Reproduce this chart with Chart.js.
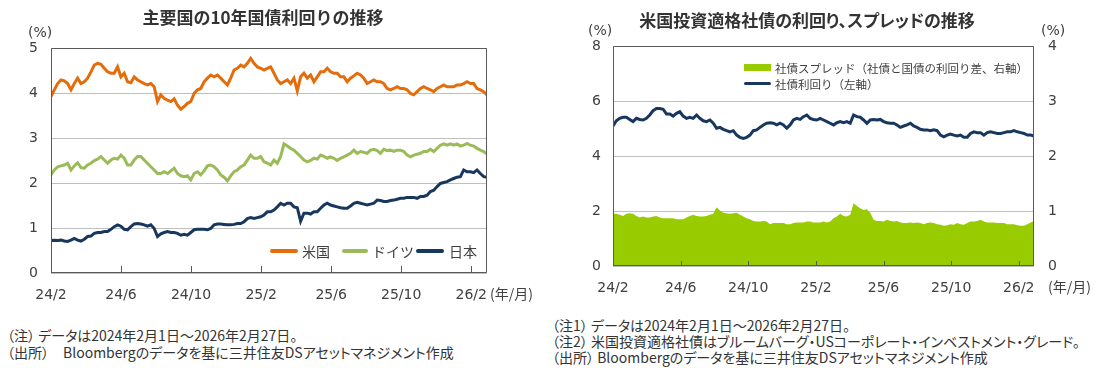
<!DOCTYPE html>
<html lang="ja">
<head>
<meta charset="utf-8">
<title>主要国の10年国債利回り / 米国投資適格社債</title>
<script src="https://cdn.jsdelivr.net/npm/chart.js@4/dist/chart.umd.min.js"></script>
<style>
    html, body { margin: 0; padding: 0; background: #fff; }
    body { width: 1112px; height: 368px; position: relative; overflow: hidden; }
    canvas { position: absolute; top: 0; }
    .t { position: absolute; white-space: nowrap; color: #404040; font-family: "Noto Sans CJK JP", sans-serif; }
    .num { font-family: "DejaVu Sans", sans-serif; font-size: 14px; line-height: 16px; }
    .ttl { font-weight: bold; font-size: 17px; line-height: 20px; text-align: center; color: #333; }
    .lg { font-size: 14px; line-height: 16px; }
    .lg2 { font-size: 11.5px; line-height: 14px; }
    .note { font-size: 14px; line-height: 16px; color: #333; font-feature-settings: "palt"; }
    .sw { position: absolute; }
</style>
</head>
<body>
<canvas id="graficoJuros" width="550" height="310" style="left:0"></canvas>
<canvas id="graficoCredito" width="556" height="310" style="left:556px"></canvas>

<div class="t ttl" style="left:0;width:526px;top:7px">主要国の10年国債利回りの推移</div>
<div class="t num" style="left:28px;top:24px">(%)</div>
<div class="t lg" style="left:490px;top:285px">(年/月)</div>

<div class="sw" style="left:270px;top:249px;width:28px;height:4px;border-radius:2px;background:#E46C0A"></div>
<div class="t lg" style="left:302px;top:243px">米国</div>
<div class="sw" style="left:342px;top:249px;width:26px;height:4px;border-radius:2px;background:#9BBB59"></div>
<div class="t lg" style="left:372px;top:243px">ドイツ</div>
<div class="sw" style="left:416px;top:249px;width:28px;height:4px;border-radius:2px;background:#17375E"></div>
<div class="t lg" style="left:449px;top:243px">日本</div>

<div class="t ttl" style="left:557px;width:500px;top:10px;font-feature-settings:'palt'">米国投資適格社債の利回り、スプレッドの推移</div>
<div class="t num" style="left:588px;top:22px">(%)</div>
<div class="t num" style="left:1041px;top:22px">(%)</div>
<div class="t lg" style="left:1048px;top:278px">(年/月)</div>

<div class="sw" style="left:744px;top:64px;width:27px;height:7px;background:#99CC00"></div>
<div class="t lg2" style="left:775px;top:61px">社債スプレッド（社債と国債の利回り差、右軸）</div>
<div class="sw" style="left:744px;top:82px;width:27px;height:3px;border-radius:2px;background:#17375E"></div>
<div class="t lg2" style="left:775px;top:77px">社債利回り（左軸）</div>

<div class="t note" style="left:7px;top:327px">（注） データは2024年2月1日～2026年2月27日。</div>
<div class="t note" style="left:7px;top:344px">（出所）　Bloombergのデータを基に三井住友DSアセットマネジメント作成</div>
<div class="t note" style="left:552px;top:317px">（注1） データは2024年2月1日～2026年2月27日。</div>
<div class="t note" style="left:552px;top:333px">（注2） 米国投資適格社債はブルームバーグ・USコーポレート・インベストメント・グレード。</div>
<div class="t note" style="left:552px;top:349px">（出所） Bloombergのデータを基に三井住友DSアセットマネジメント作成</div>

<script>
// período: 2024/2/1 a 2026/2/27, em meses desde 2024/2
const MESES_TOTAL = 24.9;

// rótulos do eixo x (a cada 4 meses)
const mesesTick = [0, 4, 8, 12, 16, 20, 24];
const rotulosTick = ['24/2', '24/6', '24/10', '25/2', '25/6', '25/10', '26/2'];

// 10年国債利回り (%), amostras aproximadamente semanais
const rendaEUA = [
    3.92, 4.07, 4.21, 4.29, 4.27, 4.21, 4.07, 4.21, 4.33, 4.21,
    4.25, 4.33, 4.47, 4.62, 4.66, 4.64, 4.55, 4.47, 4.44, 4.44,
    4.58, 4.36, 4.44, 4.25, 4.23, 4.36, 4.29, 4.25, 4.21, 4.18,
    4.21, 4.14, 3.81, 3.96, 3.88, 3.84, 3.81, 3.87, 3.73, 3.64,
    3.70, 3.77, 3.81, 3.99, 4.07, 4.10, 4.25, 4.33, 4.40, 4.36,
    4.40, 4.33, 4.25, 4.18, 4.33, 4.51, 4.55, 4.62, 4.58, 4.66,
    4.77, 4.66, 4.58, 4.55, 4.51, 4.55,
    4.58, 4.44, 4.29, 4.21, 4.25, 4.29, 4.21, 4.33, 4.05, 4.36,
    4.44, 4.33, 4.40, 4.25, 4.36, 4.47, 4.47, 4.55, 4.47, 4.44,
    4.44, 4.36, 4.36, 4.25, 4.33, 4.38, 4.44, 4.40, 4.33, 4.21,
    4.25, 4.29, 4.25, 4.25, 4.21, 4.10, 4.07, 4.10, 4.14, 4.10,
    4.10, 4.07, 3.99, 3.96, 4.03, 4.10, 4.14, 4.10, 4.07, 4.03,
    4.10, 4.14, 4.18, 4.14, 4.14, 4.14, 4.18, 4.18, 4.21, 4.25,
    4.21, 4.21, 4.10, 4.07, 4.03, 3.96
];

const rendaAlemanha = [
    2.18, 2.29, 2.36, 2.38, 2.40, 2.44, 2.29, 2.38, 2.45, 2.34,
    2.33, 2.40, 2.44, 2.50, 2.53, 2.59, 2.51, 2.44, 2.51, 2.55,
    2.53, 2.62, 2.55, 2.40, 2.40, 2.51, 2.59, 2.59, 2.51, 2.44,
    2.36, 2.29, 2.21, 2.21, 2.25, 2.21, 2.27, 2.33, 2.21, 2.16,
    2.14, 2.16, 2.07, 2.21, 2.25, 2.18, 2.27, 2.38, 2.40, 2.36,
    2.29, 2.18, 2.13, 2.05, 2.16, 2.25, 2.29, 2.36, 2.40, 2.51,
    2.62, 2.55, 2.55, 2.59, 2.47, 2.44,
    2.40, 2.51, 2.44, 2.59, 2.87, 2.82, 2.77, 2.73, 2.66, 2.59,
    2.51, 2.47, 2.50, 2.55, 2.53, 2.62, 2.59, 2.55, 2.58, 2.55,
    2.50, 2.55, 2.58, 2.62, 2.66, 2.73, 2.66, 2.70, 2.68, 2.66,
    2.73, 2.75, 2.72, 2.66, 2.75, 2.72, 2.73, 2.70, 2.73, 2.73,
    2.70, 2.62, 2.58, 2.62, 2.64, 2.66, 2.70, 2.70, 2.75, 2.70,
    2.77, 2.84, 2.87, 2.84, 2.87, 2.84, 2.87, 2.82, 2.84, 2.88,
    2.84, 2.82, 2.77, 2.73, 2.70, 2.64
];

const rendaJapao = [
    0.72, 0.73, 0.72, 0.73, 0.71, 0.70, 0.73, 0.77, 0.73, 0.71,
    0.75, 0.81, 0.82, 0.88, 0.90, 0.90, 0.92, 0.92, 0.97, 1.03,
    1.07, 1.04, 0.97, 0.96, 1.03, 1.09, 1.10, 1.09, 1.07, 1.04,
    1.07, 0.99, 0.81, 0.87, 0.90, 0.92, 0.90, 0.90, 0.88, 0.84,
    0.86, 0.84, 0.90, 0.96, 0.97, 0.97, 0.97, 0.96, 0.99, 1.07,
    1.09, 1.09, 1.08, 1.07, 1.07, 1.08, 1.10, 1.10, 1.14, 1.21,
    1.23, 1.21, 1.23, 1.25, 1.29, 1.36,
    1.36, 1.40, 1.47, 1.55, 1.51, 1.55, 1.55, 1.47, 1.45, 1.15,
    1.33, 1.33, 1.31, 1.36, 1.36, 1.44, 1.51, 1.55, 1.51, 1.49,
    1.47, 1.45, 1.44, 1.44, 1.49, 1.55, 1.57, 1.55, 1.53, 1.51,
    1.53, 1.55, 1.62, 1.61, 1.59, 1.59, 1.61, 1.62, 1.64, 1.66,
    1.66, 1.68, 1.68, 1.68, 1.66, 1.70, 1.70, 1.73, 1.81, 1.84,
    1.92, 1.99, 2.01, 2.03, 2.07, 2.10, 2.13, 2.14, 2.29, 2.25,
    2.25, 2.23, 2.29, 2.21, 2.14, 2.13
];

// 米国投資適格社債: 利回り (%, eixo esquerdo) e スプレッド (%, eixo direito)
const rendaCorporativa = [
    5.09, 5.28, 5.37, 5.41, 5.41, 5.33, 5.25, 5.37, 5.33, 5.31,
    5.37, 5.49, 5.65, 5.73, 5.73, 5.70, 5.53, 5.53, 5.45, 5.55,
    5.61, 5.45, 5.37, 5.41, 5.37, 5.49, 5.37, 5.28, 5.25, 5.31,
    5.19, 5.01, 5.04, 4.97, 4.92, 4.88, 4.92, 4.76, 4.68, 4.64,
    4.68, 4.76, 4.92, 4.95, 5.04, 5.13, 5.19, 5.21, 5.19, 5.13,
    5.19, 5.13, 5.01, 5.13, 5.31, 5.37, 5.33, 5.43, 5.49,
    5.37, 5.33, 5.31, 5.37, 5.31, 5.25, 5.19, 5.13, 5.21, 5.25,
    5.21, 5.25, 5.19, 5.49, 5.43, 5.41, 5.31, 5.19, 5.31, 5.33,
    5.31, 5.33, 5.25, 5.21, 5.19, 5.19, 5.13, 5.04, 5.09, 5.13,
    5.19, 5.09, 5.04, 4.97, 4.95, 4.95, 4.92, 4.95, 4.92, 4.76,
    4.70, 4.76, 4.80, 4.76, 4.73, 4.76, 4.68, 4.68, 4.82, 4.88,
    4.85, 4.85, 4.76, 4.85, 4.88, 4.85, 4.82, 4.82, 4.85,
    4.88, 4.88, 4.92, 4.88, 4.85, 4.82, 4.76, 4.76, 4.73
];

const spreadCorporativo = [
    0.95, 0.95, 0.93, 0.91, 0.95, 0.96, 0.95, 0.91, 0.88, 0.90,
    0.88, 0.88, 0.90, 0.91, 0.88, 0.87, 0.87, 0.87, 0.87, 0.85,
    0.85, 0.85, 0.88, 0.91, 0.93, 0.91, 0.90, 0.90, 0.91, 0.93,
    0.95, 1.07, 1.01, 0.97, 0.96, 0.95, 0.96, 0.97, 0.93, 0.90,
    0.87, 0.85, 0.82, 0.81, 0.81, 0.82, 0.81, 0.76, 0.78, 0.78,
    0.78, 0.78, 0.76, 0.76, 0.78, 0.79, 0.79, 0.79, 0.81,
    0.81, 0.79, 0.79, 0.79, 0.81, 0.79, 0.81, 0.87, 0.90, 0.95,
    0.91, 0.90, 0.93, 1.14, 1.09, 1.05, 1.02, 1.03, 0.97, 0.84,
    0.82, 0.82, 0.81, 0.84, 0.82, 0.81, 0.82, 0.79, 0.78, 0.78,
    0.79, 0.78, 0.79, 0.78, 0.76, 0.78, 0.79, 0.78, 0.76, 0.75,
    0.73, 0.74, 0.76, 0.75, 0.78, 0.76, 0.75, 0.78, 0.81, 0.81,
    0.82, 0.84, 0.81, 0.79, 0.79, 0.79, 0.78, 0.78, 0.78,
    0.76, 0.76, 0.76, 0.74, 0.73, 0.73, 0.76, 0.79, 0.82
];

const CORES = {
    eua: '#E46C0A',
    alemanha: '#9BBB59',
    japao: '#17375E',
    corporativa: '#17375E',
    spread: '#99CC00',
    moldura: '#595959',
    grade: '#BFBFBF',
    texto: '#404040'
};

Chart.defaults.font.family = '"DejaVu Sans", Verdana, sans-serif';
Chart.defaults.font.size = 14;
Chart.defaults.color = CORES.texto;

/**
 * Converte uma série em pontos {x: mês, y: valor}, espaçados uniformemente no período.
 * @param {number[]} valores - Valores da série
 */
function paraPontos(valores) {
    const passo = MESES_TOTAL / (valores.length - 1);
    return valores.map((v, i) => ({ x: i * passo, y: v }));
}

// moldura do gráfico + marcas do eixo x voltadas para dentro
const pluginMoldura = {
    id: 'moldura',
    afterDatasetsDraw(chart, args, opts) {
        const { ctx, chartArea: a, scales: { x } } = chart;
        ctx.save();
        ctx.strokeStyle = CORES.moldura;
        ctx.lineWidth = 1;
        ctx.beginPath();
        ctx.rect(Math.round(a.left) + 0.5, Math.round(a.top) + 0.5,
                 Math.round(a.right - a.left) - 1, Math.round(a.bottom - a.top) - 1);
        x.ticks.forEach(t => {
            const px = Math.round(x.getPixelForValue(t.value)) + 0.5;
            ctx.moveTo(px, a.bottom);
            ctx.lineTo(px, a.bottom - opts.marca);
        });
        ctx.stroke();
        ctx.restore();
    }
};

/**
 * Eixo x em meses com rótulos "aa/m".
 * @param {number} altura - Altura reservada para o eixo
 */
function eixoMeses(altura) {
    return {
        type: 'linear',
        min: 0,
        max: MESES_TOTAL,
        afterBuildTicks: (scale) => {
            scale.ticks = mesesTick.map(v => ({ value: v }));
        },
        afterFit: (scale) => { scale.height = altura; },
        ticks: {
            autoSkip: false,
            maxRotation: 0,
            padding: 6,
            callback: (v) => rotulosTick[mesesTick.indexOf(v)]
        },
        grid: { display: false },
        border: { display: false }
    };
}

function linha(valores, cor, largura, eixo) {
    return {
        data: paraPontos(valores),
        borderColor: cor,
        borderWidth: largura,
        pointRadius: 0,
        tension: 0,
        fill: false,
        yAxisID: eixo
    };
}

/**
 * Cria o gráfico dos juros de 10 anos (EUA, Alemanha, Japão).
 */
function criarGraficoJuros(canvasId) {
    const ctx = document.getElementById(canvasId).getContext('2d');
    return new Chart(ctx, {
        type: 'line',
        data: {
            datasets: [
                linha(rendaJapao, CORES.japao, 3, 'y'),
                linha(rendaAlemanha, CORES.alemanha, 3, 'y'),
                linha(rendaEUA, CORES.eua, 3, 'y')
            ]
        },
        options: {
            responsive: false,
            animation: false,
            devicePixelRatio: 1,
            layout: { padding: { top: 48, right: 63, left: 0, bottom: 0 } },
            plugins: {
                legend: { display: false },
                tooltip: { enabled: false },
                moldura: { marca: 7 }
            },
            scales: {
                x: eixoMeses(37),
                y: {
                    min: 0,
                    max: 5,
                    afterFit: (scale) => { scale.width = 51; },
                    ticks: { stepSize: 1, padding: 13 },
                    grid: { color: CORES.grade, drawTicks: false },
                    border: { display: false }
                }
            }
        },
        plugins: [pluginMoldura]
    });
}

/**
 * Cria o gráfico do rendimento e spread dos títulos corporativos dos EUA.
 */
function criarGraficoCredito(canvasId) {
    const ctx = document.getElementById(canvasId).getContext('2d');
    const area = {
        data: paraPontos(spreadCorporativo),
        borderWidth: 0,
        borderColor: CORES.spread,
        backgroundColor: CORES.spread,
        pointRadius: 0,
        tension: 0,
        fill: 'origin',
        yAxisID: 'y1'
    };
    return new Chart(ctx, {
        type: 'line',
        data: {
            datasets: [
                linha(rendaCorporativa, CORES.corporativa, 3, 'y'),
                area
            ]
        },
        options: {
            responsive: false,
            animation: false,
            devicePixelRatio: 1,
            layout: { padding: { top: 46, right: 38, left: 0, bottom: 0 } },
            plugins: {
                legend: { display: false },
                tooltip: { enabled: false },
                moldura: { marca: 5 }
            },
            scales: {
                x: eixoMeses(44),
                y: {
                    min: 0,
                    max: 8,
                    afterFit: (scale) => { scale.width = 57; },
                    ticks: { stepSize: 2, padding: 12 },
                    grid: { color: CORES.grade, drawTicks: false },
                    border: { display: false }
                },
                y1: {
                    position: 'right',
                    min: 0,
                    max: 4,
                    afterFit: (scale) => { scale.width = 40; },
                    ticks: { stepSize: 1, padding: 14 },
                    grid: { display: false, drawTicks: false },
                    border: { display: false }
                }
            }
        },
        plugins: [pluginMoldura]
    });
}

criarGraficoJuros('graficoJuros');
criarGraficoCredito('graficoCredito');
</script>
</body>
</html>
